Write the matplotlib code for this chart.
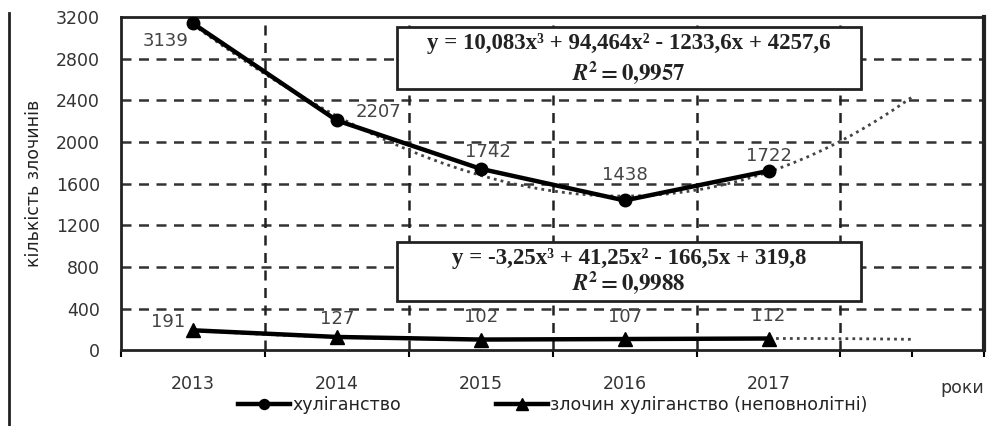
import numpy as np
import matplotlib
matplotlib.use("Agg")
import matplotlib.pyplot as plt
from matplotlib.lines import Line2D

years = ['2013', '2014', '2015', '2016', '2017']
hooligan = [3139, 2207, 1742, 1438, 1722]
minors = [191, 127, 102, 107, 112]
# trend coefficients as printed on the chart (x = 1..5)
hooligan_trend = [10.083, 94.464, -1233.6, 4257.6]
minors_trend = [-3.25, 41.25, -166.5, 319.8]
hooligan_eq = 'y = 10,083x³ + 94,464x² - 1233,6x + 4257,6'
hooligan_r2 = '0,9957'
minors_eq = 'y = -3,25x³ + 41,25x² - 166,5x + 319,8'
minors_r2 = '0,9988'

plt.rcParams['font.family'] = ['DejaVu Sans']
plt.rcParams['mathtext.fontset'] = 'stix'

fig = plt.figure(figsize=(9.89, 4.26), dpi=100)
ax = fig.add_axes([0.1223, 0.178, 0.873, 0.782])

x = np.arange(1, len(years) + 1)
xt = np.linspace(1, 6, 200)

ax.plot(xt, np.polyval(hooligan_trend, xt), color='#444444', lw=2, ls=(0, (1, 1.5)), zorder=3)
ax.plot(xt, np.polyval(minors_trend, xt), color='#444444', lw=2, ls=(0, (1, 1.5)), zorder=3)
ax.plot(x, hooligan, color='black', lw=3.2, marker='o', ms=9, zorder=4, label='хуліганство')
ax.plot(x, minors, color='black', lw=3.2, marker='^', ms=10, zorder=4,
        label='злочин хуліганство (неповнолітні)')

ax.set_xlim(0.5, 6.5)
ax.set_ylim(0, 3200)
ax.set_yticks(np.arange(0, 3201, 400))
ax.set_xticks(x)
ax.set_xticklabels(years)
ax.set_xticks(np.arange(0.5, 6.6, 0.5), minor=True)
ax.tick_params(axis='x', which='major', length=0, pad=18, labelsize=12.5, colors='#333333')
ax.tick_params(axis='x', which='minor', length=5, width=1.5, direction='out')
ax.tick_params(axis='y', length=0, labelsize=12.5, colors='#333333', pad=15)

for y in np.arange(400, 3200, 400):
    ax.axhline(y, color='#333333', lw=1.8, ls=(0, (4, 3)), zorder=1)
for xv in np.arange(1.5, 6, 1):
    ax.axvline(xv, color='#222222', lw=1.8, ls=(0, (4, 3)), zorder=1)

for s in ax.spines.values():
    s.set_linewidth(2)
    s.set_color('#222222')
ax.spines['right'].set_linewidth(3)

ax.set_ylabel('кількість злочинів', fontsize=12.5, color='#222222', labelpad=9)

h_off = [(-20, -13), (30, 6), (5, 12), (0, 18), (0, 11)]
for xi, v, off in zip(x, hooligan, h_off):
    ax.annotate(str(v), (xi, v), xytext=off, textcoords='offset points',
                ha='center', va='center', fontsize=13, color='#444444', zorder=5)
m_off = [(-18, 6), (0, 13), (0, 16), (0, 16), (0, 16)]
for xi, v, off in zip(x, minors, m_off):
    ax.annotate(str(v), (xi, v), xytext=off, textcoords='offset points',
                ha='center', va='center', fontsize=13, color='#444444', zorder=5)

# equation boxes: (x0, y0, x1, y1), line y's
boxes = [((2.415, 2510, 5.64, 3100), 2950, 2662, hooligan_eq, hooligan_r2),
         ((2.42, 471, 5.64, 1038), 884, 644, minors_eq, minors_r2)]
for (x0, y0, x1, y1), ly1, ly2, eq, r2 in boxes:
    ax.add_patch(plt.Rectangle((x0, y0), x1 - x0, y1 - y0, facecolor='white',
                               edgecolor='#222222', lw=2, zorder=6))
    xc = (x0 + x1) / 2
    ax.text(xc, ly1, eq, ha='center', va='center', fontsize=16.5,
            family='Liberation Serif', weight='bold', color='#222222', zorder=7)
    ax.text(xc, ly2, r'$\mathbfit{R}^{\mathbf{2}}\mathbf{=' + r2.replace(',', '{,}') + '}$',
            ha='center', va='center', fontsize=16.5, color='#222222', zorder=7)

ax.text(6.5, -0.115, 'роки', transform=ax.get_xaxis_transform(), ha='right', va='center',
        fontsize=12.5, color='#333333')

leg = fig.legend(loc='center', bbox_to_anchor=(0.559, 0.05), ncol=2, frameon=False,
                 fontsize=12.5, handlelength=3.0, handletextpad=0.1, columnspacing=5.5,
                 markerscale=0.8)
for t in leg.get_texts():
    t.set_color('#222222')

fig.add_artist(Line2D([0.009, 0.009], [0, 0.97], color='#222222', lw=2, transform=fig.transFigure))

fig.savefig('out.png', dpi=100)
